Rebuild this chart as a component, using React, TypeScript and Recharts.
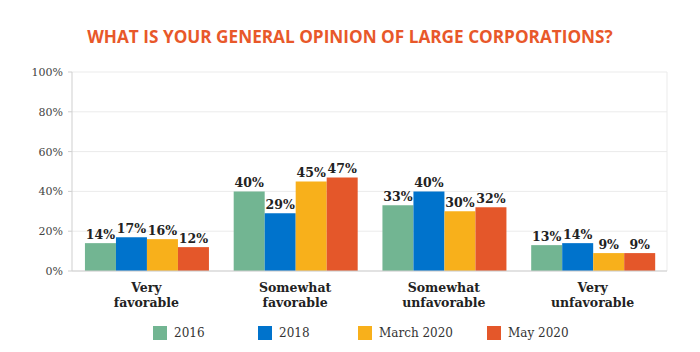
import React from 'react'
import { BarChart, Bar, XAxis, YAxis, CartesianGrid, Legend, LabelList } from 'recharts'

const categories = ['Very favorable', 'Somewhat favorable', 'Somewhat unfavorable', 'Very unfavorable']
const s2016 = [14, 40, 33, 13]
const s2018 = [17, 29, 40, 14]
const sMar2020 = [16, 45, 30, 9]
const sMay2020 = [12, 47, 32, 9]
const yTicks = [0, 20, 40, 60, 80, 100]

const series = [
  { key: 'y2016', name: '2016', color: '#72B592', values: s2016 },
  { key: 'y2018', name: '2018', color: '#0073CC', values: s2018 },
  { key: 'mar2020', name: 'March 2020', color: '#F8B01B', values: sMar2020 },
  { key: 'may2020', name: 'May 2020', color: '#E4572A', values: sMay2020 },
]

// legend slot widths, so the swatches land where the original has them
const legendSlots = [105, 100, 129, 100]

const data = categories.map((c, i) => {
  const row: any = { category: c }
  series.forEach((s) => (row[s.key] = s.values[i]))
  return row
})

const serif = "'DejaVu Serif', serif"

function CategoryTick({ x, y, payload }: any) {
  const label: string = payload.value
  const idx = label.indexOf(' ')
  const lines = [label.slice(0, idx), label.slice(idx + 1)]
  return (
    <text x={x} y={y} textAnchor="middle" fontFamily={serif} fontWeight="bold" fontSize={12.5} fill="#222">
      {lines.map((l, i) => (
        <tspan key={i} x={x} dy={i === 0 ? 13 : 15}>
          {l}
        </tspan>
      ))}
    </text>
  )
}

function LegendContent() {
  return (
    <div style={{ display: 'flex', paddingLeft: 153, paddingTop: 15 }}>
      {series.map((s, i) => (
        <div key={s.key} style={{ display: 'flex', alignItems: 'center', gap: 7, width: legendSlots[i] }}>
          <span style={{ width: 14, height: 14, background: s.color, display: 'inline-block' }} />
          <span style={{ fontFamily: serif, fontSize: 12, color: '#333' }}>{s.name}</span>
        </div>
      ))}
    </div>
  )
}

export default function App() {
  return (
    <div style={{ position: 'absolute', left: 0, top: 0, width: 700, height: 352, background: '#fff' }}>
      <div
        style={{
          position: 'absolute',
          top: 27,
          left: 0,
          width: 700,
          textAlign: 'center',
          fontFamily: "'Open Sans', sans-serif",
          fontWeight: 700,
          fontSize: 17.2,
          color: '#E8582A',
          lineHeight: '20px',
        }}
      >
        WHAT IS YOUR GENERAL OPINION OF LARGE CORPORATIONS?
      </div>
      <div style={{ position: 'absolute', left: 0, top: 0 }}>
        <BarChart
          width={700}
          height={352}
          data={data}
          margin={{ top: 72, right: 33, bottom: 11, left: 0 }}
          barCategoryGap="8.7%"
          barGap={0}
        >
          <CartesianGrid
            stroke="#ebebeb"
            verticalCoordinatesGenerator={({ offset }: any) => [offset.left + offset.width]}
            verticalFill={[]}
          />
          <XAxis
            dataKey="category"
            height={40}
            axisLine={{ stroke: '#cfcfcf' }}
            tickLine={false}
            interval={0}
            tick={<CategoryTick />}
          />
          <YAxis
            width={72}
            domain={[0, 100]}
            ticks={yTicks}
            tickFormatter={(v) => `${v}%`}
            axisLine={{ stroke: '#cfcfcf' }}
            tickLine={{ stroke: '#cfcfcf' }}
            tickSize={4}
            tickMargin={5}
            tick={{ fontFamily: serif, fontSize: 11, fill: '#444' }}
          />
          <Legend verticalAlign="bottom" wrapperStyle={{ height: 30 }} content={<LegendContent />} />
          {series.map((s) => (
            <Bar key={s.key} dataKey={s.key} name={s.name} fill={s.color} isAnimationActive={false}>
              <LabelList
                dataKey={s.key}
                position="top"
                offset={4}
                formatter={(v: any) => `${v}%`}
                style={{ fontFamily: serif, fontWeight: 'bold', fontSize: 12.5, fill: '#222' }}
              />
            </Bar>
          ))}
        </BarChart>
      </div>
    </div>
  )
}
